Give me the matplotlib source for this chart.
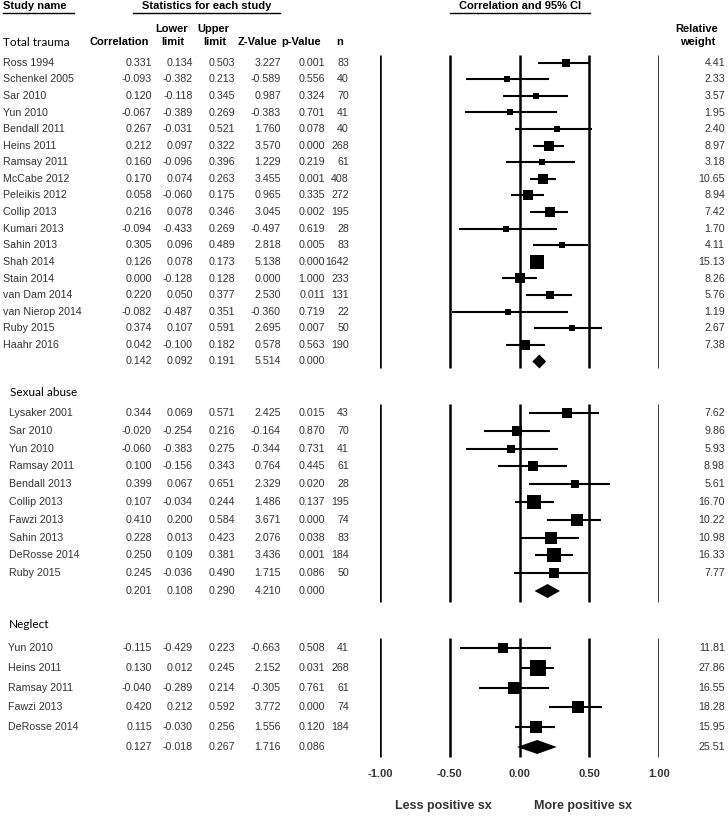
import matplotlib
matplotlib.use("Agg")
import matplotlib.pyplot as plt
from matplotlib.patches import Polygon

# ---- data ----
tt_names = ["Ross 1994", "Schenkel 2005", "Sar 2010", "Yun 2010", "Bendall 2011", "Heins 2011",
            "Ramsay 2011", "McCabe 2012", "Peleikis 2012", "Collip 2013", "Kumari 2013", "Sahin 2013",
            "Shah 2014", "Stain 2014", "van Dam 2014", "van Nierop 2014", "Ruby 2015", "Haahr 2016"]
tt_r = [0.331, -0.093, 0.120, -0.067, 0.267, 0.212, 0.160, 0.170, 0.058, 0.216, -0.094, 0.305,
        0.126, 0.000, 0.220, -0.082, 0.374, 0.042]
tt_lo = [0.134, -0.382, -0.118, -0.389, -0.031, 0.097, -0.096, 0.074, -0.060, 0.078, -0.433, 0.096,
         0.078, -0.128, 0.050, -0.487, 0.107, -0.100]
tt_hi = [0.503, 0.213, 0.345, 0.269, 0.521, 0.322, 0.396, 0.263, 0.175, 0.346, 0.269, 0.489,
         0.173, 0.128, 0.377, 0.351, 0.591, 0.182]
tt_z = [3.227, -0.589, 0.987, -0.383, 1.760, 3.570, 1.229, 3.455, 0.965, 3.045, -0.497, 2.818,
        5.138, 0.000, 2.530, -0.360, 2.695, 0.578]
tt_p = [0.001, 0.556, 0.324, 0.701, 0.078, 0.000, 0.219, 0.001, 0.335, 0.002, 0.619, 0.005,
        0.000, 1.000, 0.011, 0.719, 0.007, 0.563]
tt_n = [83, 40, 70, 41, 40, 268, 61, 408, 272, 195, 28, 83, 1642, 233, 131, 22, 50, 190]
tt_w = [4.41, 2.33, 3.57, 1.95, 2.40, 8.97, 3.18, 10.65, 8.94, 7.42, 1.70, 4.11, 15.13, 8.26,
        5.76, 1.19, 2.67, 7.38]
tt_sum = [0.142, 0.092, 0.191, 5.514, 0.000]

sa_names = ["Lysaker 2001", "Sar 2010", "Yun 2010", "Ramsay 2011", "Bendall 2013", "Collip 2013",
            "Fawzi 2013", "Sahin 2013", "DeRosse 2014", "Ruby 2015"]
sa_r = [0.344, -0.020, -0.060, 0.100, 0.399, 0.107, 0.410, 0.228, 0.250, 0.245]
sa_lo = [0.069, -0.254, -0.383, -0.156, 0.067, -0.034, 0.200, 0.013, 0.109, -0.036]
sa_hi = [0.571, 0.216, 0.275, 0.343, 0.651, 0.244, 0.584, 0.423, 0.381, 0.490]
sa_z = [2.425, -0.164, -0.344, 0.764, 2.329, 1.486, 3.671, 2.076, 3.436, 1.715]
sa_p = [0.015, 0.870, 0.731, 0.445, 0.020, 0.137, 0.000, 0.038, 0.001, 0.086]
sa_n = [43, 70, 41, 61, 28, 195, 74, 83, 184, 50]
sa_w = [7.62, 9.86, 5.93, 8.98, 5.61, 16.70, 10.22, 10.98, 16.33, 7.77]
sa_sum = [0.201, 0.108, 0.290, 4.210, 0.000]

ng_names = ["Yun 2010", "Heins 2011", "Ramsay 2011", "Fawzi 2013", "DeRosse 2014"]
ng_r = [-0.115, 0.130, -0.040, 0.420, 0.115]
ng_lo = [-0.429, 0.012, -0.289, 0.212, -0.030]
ng_hi = [0.223, 0.245, 0.214, 0.592, 0.256]
ng_z = [-0.663, 2.152, -0.305, 3.772, 1.556]
ng_p = [0.508, 0.031, 0.761, 0.000, 0.120]
ng_n = [41, 268, 61, 74, 184]
ng_w = [11.81, 27.86, 16.55, 18.28, 15.95]
ng_sum = [0.127, -0.018, 0.267, 1.716, 0.086]
ng_sum_w = "25.51"

ticks = [-1.0, -0.5, 0.0, 0.5, 1.0]

# ---- layout (pixels) ----
W, H = 728, 821
cols = [152, 193, 235, 281, 325, 349]   # right edges of table columns
fx0, fx1 = 380, 659                     # forest plot -1 .. 1
wx = 725                                # relative weight right edge
txtc = "#333333"
dfont = "Liberation Sans"

fig = plt.figure(figsize=(W / 100, H / 100), dpi=100)
tab = fig.add_axes([0, 0, 1, 1])
tab.set_xlim(0, W)
tab.set_ylim(H, 0)
tab.axis("off")
ax = fig.add_axes([fx0 / W, 0, (fx1 - fx0) / W, 1])
ax.set_xlim(-1, 1)
ax.set_ylim(H, 0)
ax.axis("off")


def put(x, y, s, ha="left", size=7.7, weight="normal", color=txtc, family=dfont):
    tab.text(x, y, s, ha=ha, va="center", fontsize=size, fontweight=weight,
             color=color, family=family)


# column headers
put(3, 6, "Study name", size=8, weight="bold", color="black")
tab.plot([3, 74], [13, 13], color="black", lw=1)
put(207, 6, "Statistics for each study", ha="center", size=8, weight="bold", color="black")
tab.plot([133, 280], [13, 13], color="black", lw=1)
put(520, 6, "Correlation and 95% CI", ha="center", size=8, weight="bold", color="black")
tab.plot([450, 590], [13, 13], color="black", lw=1)
put(119, 42, "Correlation", ha="center", size=8, weight="bold", color="black")
put(172, 29, "Lower", ha="center", size=8, weight="bold", color="black")
put(173, 42, "limit", ha="center", size=8, weight="bold", color="black")
put(213, 29, "Upper", ha="center", size=8, weight="bold", color="black")
put(215, 42, "limit", ha="center", size=8, weight="bold", color="black")
put(257, 42, "Z-Value", ha="center", size=8, weight="bold", color="black")
put(301, 42, "p-Value", ha="center", size=8, weight="bold", color="black")
put(340, 42, "n", ha="center", size=8, weight="bold", color="black")
put(697, 29, "Relative", ha="center", size=8, weight="bold", color="black")
put(698, 42, "weight", ha="center", size=8, weight="bold", color="black")

sections = [
    ("Total trauma", 3, 42, 3, 62.7, 16.6, (55, 368), 3.35,
     tt_names, tt_r, tt_lo, tt_hi, tt_z, tt_p, tt_n, tt_w, tt_sum, None),
    ("Sexual abuse", 10, 392, 9, 413, 17.8, (404, 602), 3.5,
     sa_names, sa_r, sa_lo, sa_hi, sa_z, sa_p, sa_n, sa_w, sa_sum, None),
    ("Neglect", 9, 625, 8, 648, 19.8, (638, 757), 2.9,
     ng_names, ng_r, ng_lo, ng_hi, ng_z, ng_p, ng_n, ng_w, ng_sum, ng_sum_w),
]

for (title, hx, hy, nx, y0, dy, span, k,
     names, r, lo, hi, z, p, n, w, summ, sumw) in sections:
    put(hx, hy, title, size=8.5, color="black", family="Lato")
    ax.vlines(ticks, span[0], span[1], color="black", lw=1.8)
    for i in range(len(names)):
        y = y0 + i * dy
        put(nx, y, names[i])
        vals = ["%.3f" % r[i], "%.3f" % lo[i], "%.3f" % hi[i], "%.3f" % z[i], "%.3f" % p[i], str(n[i])]
        for c, v in zip(cols, vals):
            put(c, y, v, ha="right")
        put(wx, y, "%.2f" % w[i], ha="right")
        ax.plot([lo[i], hi[i]], [y, y], color="black", lw=1.5, solid_capstyle="butt")
        side = max(6, k * w[i] ** 0.5)
        ax.plot(r[i], y, marker="s", color="black", markersize=side * 0.72, mew=0)
    ys = y0 + len(names) * dy
    for c, v in zip(cols[:5], summ):
        put(c, ys, "%.3f" % v, ha="right")
    if sumw:
        put(wx, ys, sumw, ha="right")
    hh = 7
    ax.add_patch(Polygon([[summ[1], ys], [summ[0], ys - hh], [summ[2], ys], [summ[0], ys + hh]],
                         closed=True, color="black", lw=0))

for t in ticks:
    ax.text(t, 774, "%.2f" % t, ha="center", va="center", fontsize=8, fontweight="bold",
            color=txtc, family=dfont)
put(443, 806, "Less positive sx", ha="center", size=9, weight="bold")
put(583, 806, "More positive sx", ha="center", size=9, weight="bold")

fig.savefig("out.png", dpi=100)
